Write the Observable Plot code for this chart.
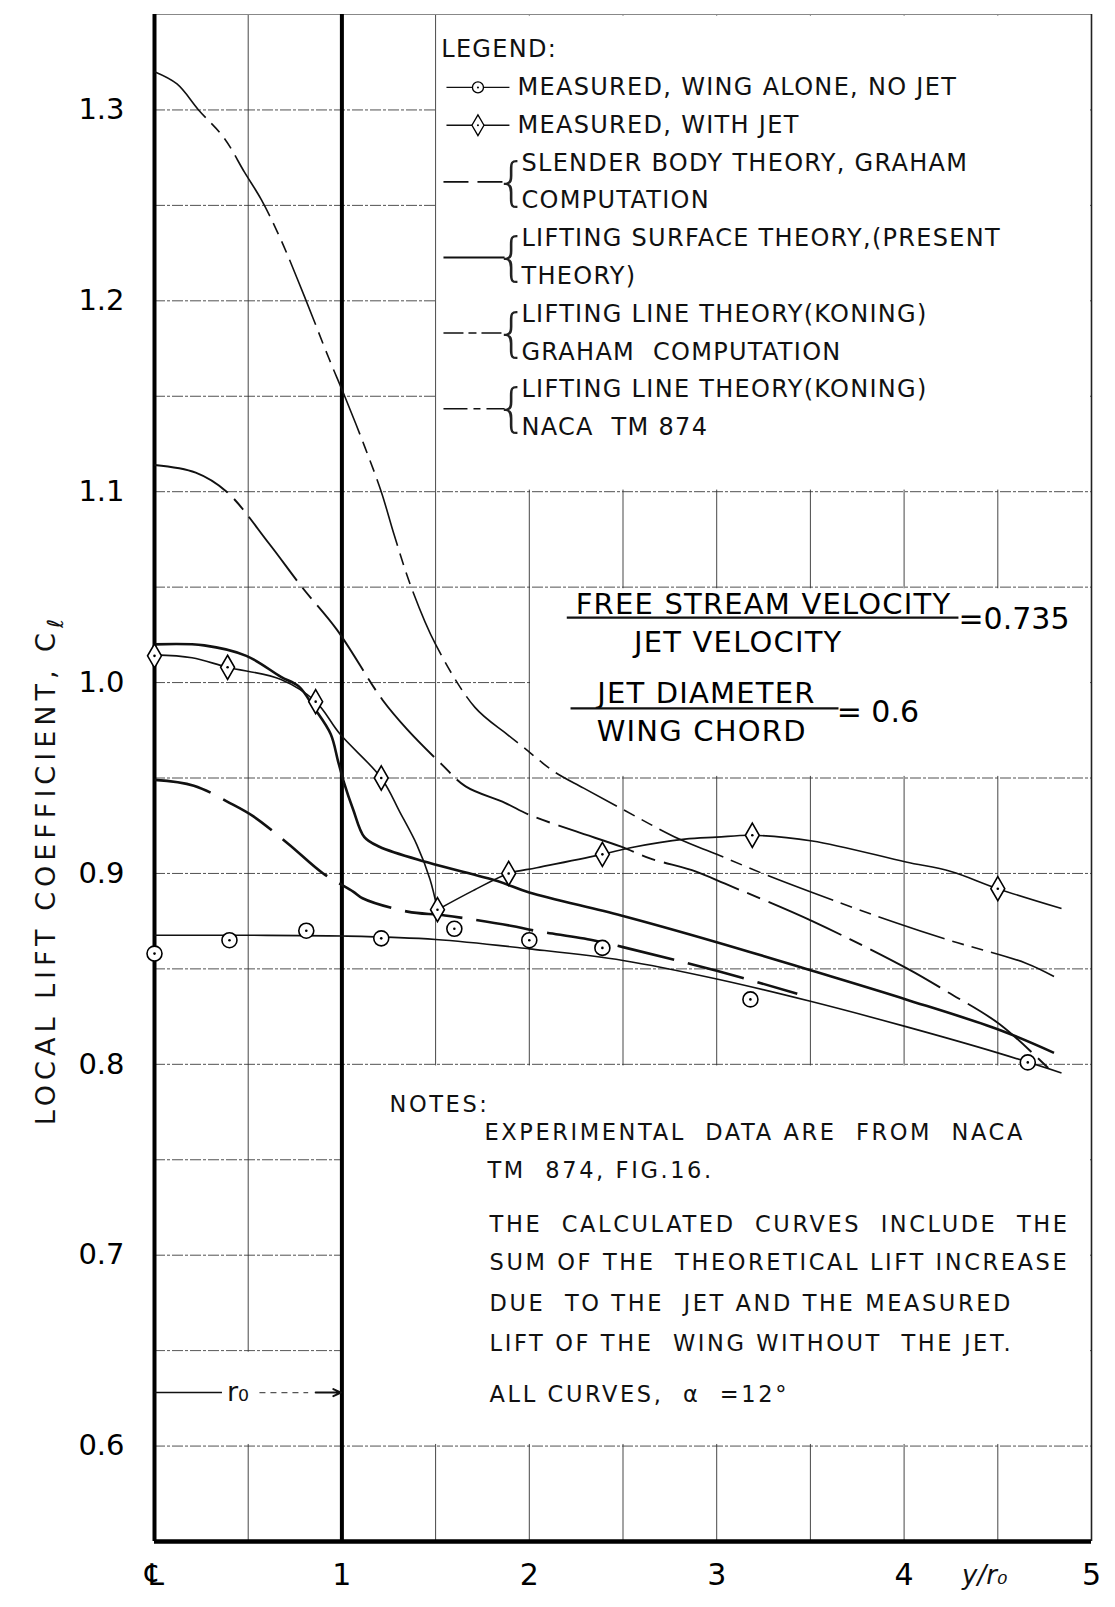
<!DOCTYPE html>
<html><head><meta charset="utf-8">
<script src="https://cdn.jsdelivr.net/npm/d3@7"></script>
<script src="https://cdn.jsdelivr.net/npm/@observablehq/plot@0.6"></script>
<style>
html,body{margin:0;padding:0;background:#fff;}
#chart{width:1115px;height:1607px;}
</style></head><body><div id="chart"></div>
<script>
// ---------- DATA ----------
// Measured, wing alone, no jet (circles)
const noJetX = [0, 0.40, 0.81, 1.21, 1.60, 2.00, 2.39, 3.18, 4.66];
const noJetY = [0.858, 0.865, 0.870, 0.866, 0.871, 0.865, 0.861, 0.834, 0.801];
// faired curve through no-jet data
const noJetFairX = [0, 0.5, 1.0, 1.5, 2.0, 2.5, 3.0, 3.5, 4.0, 4.5, 4.84];
const noJetFairY = [0.8676, 0.8676, 0.8672, 0.8654, 0.8605, 0.8544, 0.8447, 0.833, 0.820, 0.806, 0.7955];
// Measured, with jet (diamonds)
const withJetX = [0, 0.39, 0.86, 1.21, 1.51, 1.89, 2.39, 3.19, 4.50];
const withJetY = [1.014, 1.008, 0.990, 0.950, 0.881, 0.900, 0.910, 0.920, 0.892];
// faired curve through with-jet data (inner part, outer part)
const withJetFairInnerX = [0, 0.2, 0.39, 0.675, 0.86, 0.99, 1.21, 1.31, 1.40, 1.47, 1.51];
const withJetFairInnerY = [1.0145, 1.013, 1.008, 1.0016, 0.990, 0.973, 0.950, 0.932, 0.915, 0.897, 0.881];
const withJetFairOuterX = [1.51, 1.70, 1.89, 2.04, 2.39, 2.54, 2.83, 3.0, 3.19, 3.51, 4.01, 4.25, 4.50, 4.84];
const withJetFairOuterY = [0.881, 0.891, 0.900, 0.903, 0.910, 0.9135, 0.918, 0.9190, 0.9200, 0.917, 0.906, 0.901, 0.892, 0.8816];
// Slender body theory, Graham computation
const slenderX = [0, 0.21, 0.40, 0.526, 0.713, 0.90, 1.06, 1.11, 1.35, 1.55, 1.90, 2.03, 2.34, 2.50, 3.00, 3.43];
const slenderY = [0.949, 0.946, 0.937, 0.930, 0.9156, 0.900, 0.8905, 0.887, 0.880, 0.878, 0.8726, 0.870, 0.865, 0.8614, 0.849, 0.837];
// Lifting surface theory (present theory)
const surfaceX = [0, 0.265, 0.49, 0.675, 0.77, 0.85, 0.94, 0.98, 1.01, 1.06, 1.12, 1.20, 1.46, 1.83, 2.0, 2.49, 3.0, 3.51, 4.01, 4.51, 4.80];
const surfaceY = [1.020, 1.0195, 1.014, 1.003, 0.998, 0.987, 0.973, 0.9586, 0.948, 0.9335, 0.919, 0.914, 0.9057, 0.896, 0.890, 0.878, 0.864, 0.849, 0.834, 0.818, 0.806];
// Lifting line theory (Koning), Graham computation
const koningGrahamX = [0, 0.22, 0.385, 0.61, 0.787, 0.974, 1.216, 1.347, 1.534, 1.66, 1.87, 2.0, 2.25, 2.49, 2.64, 2.89, 3.045, 3.51, 4.02, 4.23, 4.51, 4.78];
const koningGrahamY = [1.114, 1.110, 1.100, 1.073, 1.050, 1.0276, 0.991, 0.9756, 0.957, 0.9456, 0.937, 0.9307, 0.922, 0.914, 0.908, 0.901, 0.8946, 0.875, 0.850, 0.838, 0.821, 0.797];
// Lifting line theory (Koning), NACA TM 874
const koningNacaX = [0, 0.12, 0.235, 0.37, 0.48, 0.57, 0.67, 0.80, 0.93, 1.015, 1.12, 1.21, 1.28, 1.37, 1.50, 1.71, 1.88, 1.97, 2.13, 2.29, 2.49, 2.80, 3.0, 3.27, 3.51, 3.96, 4.24, 4.65, 4.80];
const koningNacaY = [1.320, 1.3136, 1.300, 1.2855, 1.2674, 1.253, 1.233, 1.2023, 1.170, 1.150, 1.124, 1.100, 1.077, 1.050, 1.020, 0.987, 0.973, 0.966, 0.9535, 0.9447, 0.934, 0.918, 0.910, 0.899, 0.890, 0.874, 0.865, 0.853, 0.846];

// ticks
const xTicks = [0, 1, 2, 3, 4, 5];
const xTickLabels = ["\u2104", "1", "2", "3", "4", "5"];
const yTicks = [0.6, 0.7, 0.8, 0.9, 1.0, 1.1, 1.2, 1.3];
const yTickLabels = ["0.6", "0.7", "0.8", "0.9", "1.0", "1.1", "1.2", "1.3"];
const xGrid = [0.5, 1.5, 2, 2.5, 3, 3.5, 4, 4.5];
const yGrid = [0.6, 0.65, 0.7, 0.75, 0.8, 0.85, 0.9, 0.95, 1.0, 1.05, 1.1, 1.15, 1.2, 1.25, 1.3];

// texts
const yAxisTitle = "LOCAL LIFT COEFFICIENT, C";
const xAxisTitle = "y/r\u2080";
const legendTitle = "LEGEND:";
const legendLines = [
  "MEASURED, WING ALONE, NO JET",
  "MEASURED, WITH JET",
  "SLENDER BODY THEORY, GRAHAM",
  "COMPUTATION",
  "LIFTING SURFACE THEORY,(PRESENT",
  "THEORY)",
  "LIFTING LINE THEORY(KONING)",
  "GRAHAM  COMPUTATION",
  "LIFTING LINE THEORY(KONING)",
  "NACA  TM 874"
];
const notesTitle = "NOTES:";
const notesLines = [
  "EXPERIMENTAL  DATA ARE  FROM  NACA",
  "TM  874, FIG.16.",
  "THE  CALCULATED  CURVES  INCLUDE  THE",
  "SUM OF THE  THEORETICAL LIFT INCREASE",
  "DUE  TO THE  JET AND THE MEASURED",
  "LIFT OF THE  WING WITHOUT  THE JET.",
  "ALL CURVES,  \u03b1  =12\u00b0"
];
const ratio1Num = "FREE STREAM VELOCITY";
const ratio1Den = "JET VELOCITY";
const ratio1Val = "=0.735";
const ratio2Num = "JET DIAMETER";
const ratio2Den = "WING CHORD";
const ratio2Val = "= 0.6";
const radiusLabel = "r\u2080";

// ---------- BUILD ----------
const zip = (xs, ys) => xs.map((x, i) => ({x, y: ys[i]}));
const FONT = "'DejaVu Sans', 'Liberation Sans', sans-serif";

// layout of annotations (data units)
const legY = k => 1.3316 - 0.0198 * k;
const legendText = [{x: 1.53, y: legY(0), t: legendTitle}]
  .concat(legendLines.map((t, i) => ({x: i < 2 ? 1.937 : 1.958, y: legY(i + 1), t})));
const braces = [3.5, 5.5, 7.5, 9.5].map(k => ({x: 1.905, y: legY(k), t: "{"}));
const sampleY = {slender: legY(3.5), surface: legY(5.5), graham: legY(7.5), naca: legY(9.5)};

const notesText = [{x: 1.254, y: 0.7787, t: notesTitle}]
  .concat(notesLines.map((t, i) => ({x: i === 0 ? 1.761 : (i === 1 ? 1.777 : 1.788),
     y: [0.7642, 0.7443, 0.7157, 0.6958, 0.6743, 0.6538, 0.6269][i], t})));

const blanks = [
  {x1: 1.5, x2: 5, y1: 1.1, y2: 1.35},
  {x1: 2, x2: 5, y1: 0.95, y2: 1.05},
  {x1: 1, x2: 5, y1: 0.6, y2: 0.8},
  {x1: 0, x2: 1, y1: 0.6, y2: 0.65}
];

const line = (data, o) => Plot.line(data, Object.assign({x: "x", y: "y", curve: "catmull-rom", stroke: "#111", strokeLinecap: "butt"}, o));
const seg = (x1, x2, y, o) => Plot.link([{x1, x2, y}], Object.assign({x1: "x1", x2: "x2", y1: "y", y2: "y", stroke: "#111"}, o));

const chart = Plot.plot({
  width: 1115, height: 1607,
  marginLeft: 154, marginRight: 24, marginTop: 14, marginBottom: 66,
  x: {domain: [0, 5]},
  y: {domain: [0.55, 1.35]},
  style: {fontFamily: FONT, background: "white", color: "black", overflow: "visible"},
  marks: [
    // grid
    Plot.ruleY(yGrid, {stroke: "#333", strokeWidth: 1, strokeDasharray: "11,2,3,2", strokeOpacity: 0.85}),
    Plot.ruleX(xGrid, {stroke: "#333", strokeWidth: 1, strokeOpacity: 0.9}),
    Plot.rect(blanks, {x1: "x1", x2: "x2", y1: "y1", y2: "y2", fill: "white", inset: 1.6}),
    // frame
    Plot.ruleY([1.35], {stroke: "#888", strokeWidth: 1}),
    Plot.ruleX([5], {stroke: "#222", strokeWidth: 1.6}),
    Plot.ruleX([0], {stroke: "#000", strokeWidth: 4}),
    Plot.ruleX([1], {stroke: "#000", strokeWidth: 4}),
    Plot.ruleY([0.55], {stroke: "#000", strokeWidth: 4.5}),
    // theory curves
    line(zip(koningNacaX, koningNacaY), {strokeWidth: 1.6, strokeDasharray: "70,8,12,8,12,8"}),
    line(zip(koningGrahamX, koningGrahamY), {strokeWidth: 1.9, strokeDasharray: "80,9,14,9"}),
    line(zip(surfaceX, surfaceY), {strokeWidth: 2.6}),
    line(zip(slenderX, slenderY), {strokeWidth: 2.6, strokeDasharray: "58,14"}),
    // faired measured curves
    line(zip(noJetFairX, noJetFairY), {strokeWidth: 1.6}),
    line(zip(withJetFairInnerX, withJetFairInnerY), {strokeWidth: 1.6}),
    line(zip(withJetFairOuterX, withJetFairOuterY), {strokeWidth: 1.6}),
    // measured points
    Plot.dot(zip(noJetX, noJetY), {x: "x", y: "y", r: 7.5, fill: "white", stroke: "#000", strokeWidth: 1.6}),
    Plot.dot(zip(noJetX, noJetY), {x: "x", y: "y", r: 1.3, fill: "#000"}),
    Plot.dot(zip(withJetX, withJetY), {x: "x", y: "y", symbol: "diamond", r: 7.3, fill: "white", stroke: "#000", strokeWidth: 1.6}),
    Plot.dot(zip(withJetX, withJetY), {x: "x", y: "y", r: 1.3, fill: "#000"}),
    // legend samples
    seg(1.558, 1.894, legY(1), {strokeWidth: 1.4}),
    Plot.dot([{x: 1.726, y: legY(1)}], {x: "x", y: "y", r: 5.5, fill: "white", stroke: "#000", strokeWidth: 1.3}),
    Plot.dot([{x: 1.726, y: legY(1)}], {x: "x", y: "y", r: 1, fill: "#000"}),
    seg(1.558, 1.894, legY(2), {strokeWidth: 1.4}),
    Plot.dot([{x: 1.726, y: legY(2)}], {x: "x", y: "y", symbol: "diamond", r: 6.3, fill: "white", stroke: "#000", strokeWidth: 1.3}),
    Plot.dot([{x: 1.726, y: legY(2)}], {x: "x", y: "y", r: 1, fill: "#000"}),
    seg(1.542, 1.868, sampleY.slender, {strokeWidth: 1.6, strokeDasharray: "25,9"}),
    seg(1.542, 1.868, sampleY.surface, {strokeWidth: 1.8}),
    seg(1.542, 1.868, sampleY.graham, {strokeWidth: 1.5, strokeDasharray: "20,5,8,5"}),
    seg(1.542, 1.868, sampleY.naca, {strokeWidth: 1.5, strokeDasharray: "24,6,7,6"}),
    // legend text
    Plot.text(legendText, {x: "x", y: "y", text: "t", textAnchor: "start", fontSize: 24, fill: "#111", ariaLabel: () => "legend-text"}),
    Plot.text(braces, {x: "x", y: "y", text: "t", fontSize: 52, fontWeight: 200, fill: "#222"}),
    // ratio annotations
    Plot.text([{x: 3.25, y: 1.041, t: ratio1Num}, {x: 3.115, y: 1.021, t: ratio1Den},
               {x: 2.945, y: 0.994, t: ratio2Num}, {x: 2.92, y: 0.9745, t: ratio2Den}],
      {x: "x", y: "y", text: "t", fontSize: 29, fill: "#000", ariaLabel: () => "ratio-text"}),
    Plot.text([{x: 4.29, y: 1.033, t: ratio1Val}, {x: 3.64, y: 0.9845, t: ratio2Val}],
      {x: "x", y: "y", text: "t", textAnchor: "start", fontSize: 30, fill: "#000"}),
    seg(2.20, 4.29, 1.034, {strokeWidth: 2.2}),
    seg(2.22, 3.65, 0.9865, {strokeWidth: 2.2}),
    // notes
    Plot.text(notesText, {x: "x", y: "y", text: "t", textAnchor: "start", fontSize: 22.5, fill: "#111", ariaLabel: () => "notes-text"}),
    // r0 arrow
    seg(0, 0.36, 0.628, {strokeWidth: 1.5}),
    Plot.text([{x: 0.445, y: 0.628, t: radiusLabel}], {x: "x", y: "y", text: "t", fontSize: 27, fill: "#111"}),
    seg(0.56, 0.82, 0.628, {strokeWidth: 1.2, strokeDasharray: "6,5", stroke: "#555"}),
    Plot.arrow([{x1: 0.86, x2: 0.995, y: 0.628}], {x1: "x1", x2: "x2", y1: "y", y2: "y", stroke: "#111", strokeWidth: 2, headLength: 14, headAngle: 50}),
    // axes
    Plot.axisX(xTicks, {tickSize: 0, tickPadding: 22, tickFormat: (d, i) => xTickLabels[i], label: null, fontSize: 30}),
    Plot.axisY(yTicks, {tickSize: 0, tickPadding: 30, tickFormat: (d, i) => yTickLabels[i], label: null, fontSize: 29}),
    Plot.text([{x: 4.43, t: xAxisTitle}], {x: "x", text: "t", frameAnchor: "bottom", dy: 42, fontSize: 26, fontStyle: "italic", fill: "#111"}),
    Plot.text([{y: 0.902, t: yAxisTitle}], {y: "y", text: "t", frameAnchor: "left", textAnchor: "middle", dx: -108, rotate: -90, fontSize: 27, fill: "#111", ariaLabel: () => "y-title"})
  ]
});

const s = d3.select(chart);
s.selectAll('text[aria-label="legend-text"]').style("letter-spacing", "1.3px");
s.selectAll('text[aria-label="notes-text"]').style("letter-spacing", "2.6px");
s.selectAll('text[aria-label="ratio-text"]').style("letter-spacing", "1.2px");
s.selectAll('text[aria-label="y-title"]').style("letter-spacing", "5px")
  .append("tspan").attr("dy", "0.35em").attr("font-size", 22).attr("font-style", "italic").text("\u2113");
document.getElementById("chart").appendChild(chart);
</script></body></html>
